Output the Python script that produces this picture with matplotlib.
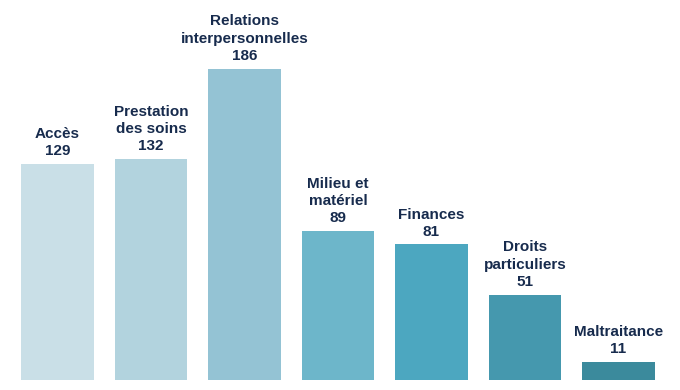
import matplotlib
matplotlib.use("Agg")
import matplotlib.pyplot as plt

categories = ["Accès", "Prestation\ndes soins", "Relations\ninterpersonnelles",
              "Milieu et\nmatériel", "Finances", "Droits\nparticuliers", "Maltraitance"]
values = [129, 132, 186, 89, 81, 51, 11]
colors = ["#c9dfe7", "#b2d3de", "#94c3d4", "#6db6ca", "#4ca7c0", "#4598ae", "#3b8a9c"]

W, H = 680, 390
fig = plt.figure(figsize=(W / 100, H / 100), dpi=100)
ax = fig.add_axes([0, 0, 1, 1])

pitch = 93.5       # px between bar centres
scale = 1.674      # px per unit
x0, base = 57.5, 10
ax.set_xlim(-x0 / pitch, (W - x0) / pitch)
ax.set_ylim(-base / scale, (H - base) / scale)

xs = range(len(values))
ax.bar(xs, values, width=0.78, color=colors)
for x, cat, v in zip(xs, categories, values):
    ax.annotate(f"{cat}\n{v}", (x, v), xytext=(0, 4), textcoords="offset points",
                ha="center", va="bottom", fontsize=11, fontweight="bold",
                family="Liberation Sans", color="#172b4d", linespacing=1.3)
ax.axis("off")
fig.savefig("out.png", dpi=100)
